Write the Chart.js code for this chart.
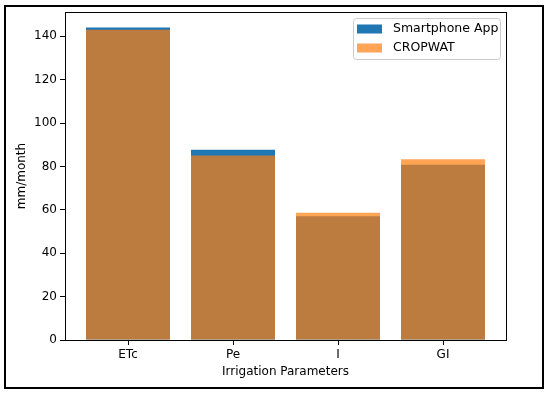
<!DOCTYPE html>
<html>
<head>
<meta charset="utf-8">
<script src="https://cdn.jsdelivr.net/npm/chart.js@4/dist/chart.umd.min.js"></script>
<style>
  html, body { margin: 0; padding: 0; background: #fff; }
  #wrap { width: 550px; height: 395px; position: relative; }
</style>
</head>
<body>
<div id="wrap"><canvas id="chart" width="550" height="395"></canvas></div>
<script>
// Values (mm/month)
const categories = ['ETc', 'Pe', 'I', 'GI'];
const smartphoneApp = [144, 87.7, 57.1, 80.8];
const cropwat = [143, 85.1, 58.7, 83.3];
const yTicks = [0, 20, 40, 60, 80, 100, 120, 140];

const FONT = 'DejaVu Sans';

// matplotlib-like frame: outer figure border, axes spines and legend box
const framePlugin = {
  id: 'frame',
  afterDraw(chart) {
    const ctx = chart.ctx;
    const a = chart.chartArea;
    ctx.save();
    // spines
    ctx.strokeStyle = '#000';
    ctx.lineWidth = 1;
    ctx.strokeRect(a.left + 0.5, a.top + 0.5, a.right - a.left, a.bottom - a.top);

    // legend
    const items = chart.data.datasets.map(ds => ({ label: ds.label, color: ds.backgroundColor }));
    const bx = 353, by = 18, bw = 147, bh = 41;
    ctx.fillStyle = 'rgba(255,255,255,0.8)';
    ctx.strokeStyle = '#cccccc';
    ctx.lineWidth = 1;
    ctx.beginPath();
    ctx.roundRect(bx + 0.5, by + 0.5, bw, bh, 3);
    ctx.fill();
    ctx.stroke();
    ctx.font = '12.5px ' + FONT;
    ctx.textBaseline = 'middle';
    items.forEach((it, i) => {
      const cy = by + 11 + i * 19;
      ctx.fillStyle = it.color;
      ctx.fillRect(bx + 4, cy - 4.5, 25, 9);
      ctx.fillStyle = '#000';
      ctx.fillText(it.label, bx + 40, cy);
    });

    // figure border
    ctx.strokeStyle = '#000';
    ctx.lineWidth = 2;
    ctx.strokeRect(5, 6, 538, 382);
    ctx.restore();
  }
};

const ctx = document.getElementById('chart').getContext('2d');
new Chart(ctx, {
  type: 'bar',
  data: {
    datasets: [
      {
        label: 'Smartphone App',
        data: smartphoneApp.map((v, i) => ({ x: i, y: v })),
        backgroundColor: '#1f77b4',
        grouped: false,
        order: 2
      },
      {
        label: 'CROPWAT',
        data: cropwat.map((v, i) => ({ x: i, y: v })),
        backgroundColor: 'rgba(255,127,14,0.7)',
        grouped: false,
        order: 1
      }
    ]
  },
  plugins: [framePlugin],
  options: {
    responsive: false,
    animation: false,
    categoryPercentage: 1,
    barPercentage: 0.8,
    layout: { padding: { left: 0, right: 44, top: 12, bottom: 16 } },
    plugins: {
      legend: { display: false },
      tooltip: { enabled: false }
    },
    scales: {
      x: {
        type: 'linear',
        min: -0.6,
        max: 3.6,
        offset: false,
        afterBuildTicks: scale => { scale.ticks = categories.map((c, i) => ({ value: i })); },
        afterFit: scale => { scale.height = 39; },
        ticks: {
          autoSkip: false,
          maxRotation: 0,
          padding: 3,
          color: '#000',
          font: { family: FONT, size: 12 },
          callback: v => categories[v]
        },
        grid: { display: true, offset: false, drawOnChartArea: false, drawTicks: true, tickLength: 5, color: '#000' },
        border: { display: true, color: '#000' },
        title: {
          display: true,
          text: 'Irrigation Parameters',
          color: '#000',
          font: { family: FONT, size: 12 },
          padding: { top: 1, bottom: 0 }
        }
      },
      y: {
        min: 0,
        max: 151.2,
        afterBuildTicks: scale => { scale.ticks = yTicks.map(v => ({ value: v })); },
        afterFit: scale => { scale.width = 65; },
        ticks: {
          padding: 3,
          color: '#000',
          font: { family: FONT, size: 12 }
        },
        grid: { display: true, drawOnChartArea: false, drawTicks: true, tickLength: 5, color: '#000' },
        border: { display: true, color: '#000' },
        title: {
          display: true,
          text: 'mm/month',
          color: '#000',
          font: { family: FONT, size: 12 },
          padding: { top: 15, bottom: 0 }
        }
      }
    }
  }
});
</script>
</body>
</html>
